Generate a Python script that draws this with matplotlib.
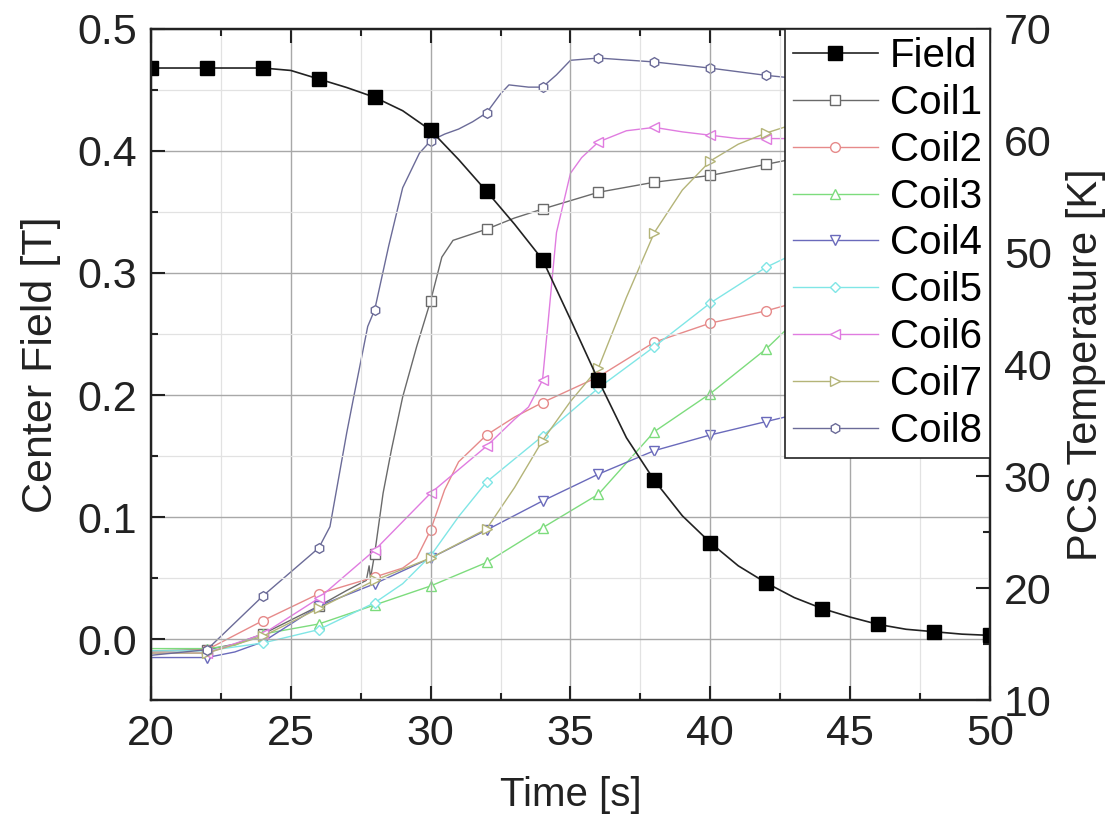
import matplotlib
matplotlib.use("Agg")
import matplotlib.pyplot as plt
from matplotlib.ticker import MultipleLocator, FormatStrFormatter
import numpy as np

plt.rcParams['font.family'] = ['Liberation Sans', 'DejaVu Sans']

# Center field, left axis [T]
field_t = [20, 22, 24, 25, 26, 27, 28, 29, 30, 31, 32, 33, 34, 35, 36,
           37, 38, 39, 40, 41, 42, 43, 44, 45, 46, 47, 48, 49, 50]
field_b = [0.468, 0.468, 0.468, 0.466, 0.459, 0.452, 0.444, 0.433, 0.417, 0.393,
           0.367, 0.340, 0.311, 0.262, 0.212, 0.165, 0.130, 0.101, 0.079, 0.060,
           0.046, 0.034, 0.025, 0.018, 0.012, 0.008, 0.006, 0.004, 0.003]

# PCS coil temperatures, right axis [K]
coil1_t = [20, 22, 23, 24, 26, 27, 27.7, 27.8, 27.85, 28, 28.3, 28.6, 29, 29.5, 30,
           30.4, 30.8, 32, 33, 34, 36, 38, 40, 42, 43]
coil1_k = [14.4, 14.5, 15.0, 15.9, 18.4, 19.8, 20.7, 22.0, 20.9, 23.1, 28.5, 32.4, 37.1, 41.6, 45.7,
           49.6, 51.1, 52.1, 53.1, 53.9, 55.4, 56.3, 56.9, 57.9, 58.4]

coil2_t = [20, 22, 24, 26, 28, 29, 29.5, 30, 30.5, 31, 32, 33, 34, 36, 38, 40, 42, 43]
coil2_k = [14.3, 14.5, 17.1, 19.5, 21.0, 21.8, 22.7, 25.2, 28.8, 31.3, 33.7, 35.3, 36.6,
           38.9, 42.0, 43.7, 44.8, 45.5]

coil3_t = [20, 22, 23, 24, 26, 28, 30, 32, 34, 36, 38, 40, 42, 43]
coil3_k = [14.6, 14.6, 14.9, 15.9, 16.8, 18.5, 20.2, 22.3, 25.4, 28.4, 34.0, 37.4, 41.4, 43.8]

coil4_t = [20, 22, 23, 24, 26, 28, 30, 32, 34, 36, 38, 40, 42, 43]
coil4_k = [13.8, 13.8, 14.3, 15.2, 18.4, 20.4, 22.7, 25.2, 27.8, 30.2, 32.3, 33.7, 34.9, 35.5]

coil5_t = [20, 22, 24, 26, 28, 29, 30, 31, 32, 34, 36, 38, 40, 42, 43]
coil5_k = [14.4, 14.4, 15.1, 16.3, 18.7, 20.4, 22.9, 26.4, 29.5, 33.6, 37.9, 41.6, 45.5, 48.7, 49.9]

coil6_t = [20, 22, 24, 26, 28, 30, 32, 33, 33.5, 34, 34.2, 34.5, 35, 35.4, 36,
           37, 38, 39, 40, 41, 42, 43]
coil6_k = [14.2, 14.2, 15.9, 19.1, 23.4, 28.5, 32.7, 35.1, 36.2, 38.6, 43.8, 51.8, 57.1, 58.5, 59.9,
           60.9, 61.2, 60.8, 60.5, 60.2, 60.2, 60.2]

coil7_t = [20, 22, 24, 26, 28, 30, 32, 33, 34, 35, 36, 37, 38, 39, 40, 41, 42, 43]
coil7_k = [14.2, 14.2, 15.7, 18.2, 20.7, 22.7, 25.3, 29.0, 33.2, 36.7, 39.7, 46.0, 51.8, 55.6,
           58.2, 59.7, 60.7, 61.5]

coil8_t = [20, 22, 24, 26, 26.4, 27, 27.25, 27.75, 28, 28.5, 29, 29.6, 30, 30.5, 31, 31.5,
           32, 32.5, 32.8, 33.5, 34, 34.5, 35, 36, 38, 40, 42, 43]
coil8_k = [14.0, 14.5, 19.3, 23.6, 25.5, 33.9, 37.1, 43.4, 44.9, 50.6, 55.8, 58.9, 60.0, 60.6,
           61.05, 61.7, 62.5, 64.2, 65.0, 64.8, 64.8, 65.9, 67.2, 67.4, 67.05, 66.5, 65.85, 65.6]

coil_names = ["Coil1", "Coil2", "Coil3", "Coil4", "Coil5", "Coil6", "Coil7", "Coil8"]
coil_times = [coil1_t, coil2_t, coil3_t, coil4_t, coil5_t, coil6_t, coil7_t, coil8_t]
coil_temps = [coil1_k, coil2_k, coil3_k, coil4_k, coil5_k, coil6_k, coil7_k, coil8_k]

coil_colors = ["#6a6a6a", "#e68a8a", "#7ddc7d", "#6a6abb", "#80e6e6", "#e07ce0", "#b4b478", "#6b6b98"]
coil_markers = ["s", "o", "^", "v", "D", "<", ">", "h"]

fig = plt.figure(figsize=(11.06, 8.23), dpi=100)
ax = fig.add_axes([0.1365, 0.1494, 0.7586, 0.8154])
ax2 = ax.twinx()
ax.set_zorder(ax2.get_zorder() + 1)
ax.patch.set_visible(False)

handles = []
for name, t, k, c, m in zip(coil_names, coil_times, coil_temps, coil_colors, coil_markers):
    t = np.array(t)
    idx = [i for i, v in enumerate(t) if v % 2 == 0 and 22 <= v <= 42]
    ms = 5.5 if m == "D" else 7
    h, = ax2.plot(t, k, color=c, lw=1.0, marker=m, ms=ms, mfc="white", mec=c,
                  mew=1.0, markevery=idx, label=name)
    handles.append(h)

hf, = ax.plot(field_t, field_b, color="#222222", lw=1.2, marker="s", ms=10,
              mfc="black", mec="black", markevery=list(range(0, 3)) + list(range(4, 29, 2)),
              label="Field")

ax.set_xlim(20, 50)
ax.set_ylim(-0.05, 0.5)
ax2.set_ylim(10, 70)

ax.xaxis.set_major_locator(MultipleLocator(5))
ax.xaxis.set_minor_locator(MultipleLocator(2.5))
ax.yaxis.set_major_locator(MultipleLocator(0.1))
ax.yaxis.set_minor_locator(MultipleLocator(0.05))
ax.yaxis.set_major_formatter(FormatStrFormatter("%.1f"))
ax2.yaxis.set_major_locator(MultipleLocator(10))
ax2.yaxis.set_minor_locator(MultipleLocator(5))

ax.grid(which="major", color="#a8a8a8", lw=1.0)
ax.grid(which="minor", color="#e2e2e2", lw=0.9)

ax.tick_params(which="both", direction="in", top=True, right=False, labelsize=31,
               width=1.5, colors="#222222")
ax.tick_params(which="major", length=10)
ax.tick_params(which="minor", length=5)
ax.tick_params(axis="x", pad=10)
ax.tick_params(axis="y", pad=10)
ax2.tick_params(which="both", direction="in", labelsize=31, width=1.5, colors="#222222", pad=10)
ax2.tick_params(which="major", length=10)
ax2.tick_params(which="minor", length=5)

for a in (ax, ax2):
    for s in a.spines.values():
        s.set_linewidth(1.6)
        s.set_color("#222222")

ax.set_xlabel("Time [s]", fontsize=29, color="#222222", labelpad=16)
ax.set_ylabel("Center Field [T]", fontsize=31, color="#222222", labelpad=12)
ax2.set_ylabel("PCS Temperature [K]", fontsize=30, color="#222222", labelpad=10)

leg = ax.legend([hf] + handles, ["Field"] + coil_names, loc="upper right",
                fontsize=29, frameon=True, fancybox=False, framealpha=1,
                edgecolor="#222222", borderaxespad=0, handlelength=2.1,
                labelspacing=0.22, handletextpad=0.3, borderpad=0.2)
leg.get_frame().set_linewidth(1.2)

fig.savefig("out.png", dpi=100)
